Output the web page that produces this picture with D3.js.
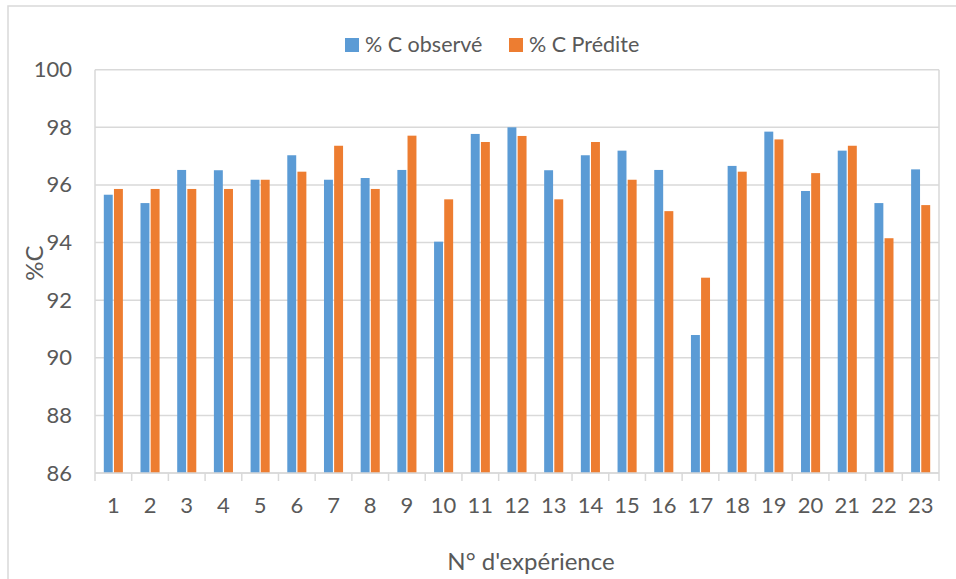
<!DOCTYPE html>
<html>
<head>
<meta charset="utf-8">
<script src="https://cdn.jsdelivr.net/npm/d3@7"></script>
<style>
  html, body { margin: 0; padding: 0; background: #fff; }
  svg { display: block; font-family: Lato, "Open Sans", sans-serif; }
</style>
</head>
<body>
<svg id="chart" width="956" height="579"></svg>
<script>
// Experiment numbers and carbon percentages
const experiments = d3.range(1, 24).map(String);
const observed = [95.66, 95.37, 96.52, 96.51, 96.18, 97.03, 96.18, 96.24, 96.52, 94.03,
                  97.77, 98.00, 96.51, 97.03, 97.19, 96.52, 90.79, 96.66, 97.85, 95.79,
                  97.19, 95.37, 96.54];
const predicted = [95.86, 95.86, 95.86, 95.86, 96.18, 96.46, 97.36, 95.86, 97.71, 95.50,
                   97.49, 97.70, 95.50, 97.49, 96.18, 95.09, 92.78, 96.46, 97.58, 96.41,
                   97.36, 94.15, 95.30];
const seriesNames = ["% C observé", "% C Prédite"];
const yTicks = [86, 88, 90, 92, 94, 96, 98, 100];

const colors = ["#5b9bd5", "#ed7d31"];
const textColor = "#595959";
const gridColor = "#d9d9d9";
const font = "Lato, 'Open Sans', sans-serif";

const svg = d3.select("#chart");
const plot = { left: 95, right: 939, top: 69.7, bottom: 473 };

// Chart frame
svg.append("path")
  .attr("d", "M8,960 L8,6 L960,6")
  .attr("fill", "none")
  .attr("stroke", gridColor)
  .attr("stroke-width", 1.5);

const x0 = d3.scaleBand()
  .domain(experiments)
  .range([plot.left, plot.right])
  .paddingInner(0.48)
  .paddingOuter(0.24);

const x1 = d3.scaleBand()
  .domain([0, 1])
  .range([0, x0.bandwidth()])
  .paddingInner(0.12);

const y = d3.scaleLinear()
  .domain([86, 100])
  .range([plot.bottom, plot.top]);

// Horizontal gridlines
svg.append("g")
  .selectAll("line")
  .data(yTicks)
  .join("line")
  .attr("x1", plot.left)
  .attr("x2", plot.right)
  .attr("y1", d => y(d))
  .attr("y2", d => y(d))
  .attr("stroke", gridColor)
  .attr("stroke-width", 1.5);

// Plot area side borders
svg.append("g")
  .selectAll("line")
  .data([plot.left, plot.right])
  .join("line")
  .attr("x1", d => d).attr("x2", d => d)
  .attr("y1", plot.top).attr("y2", plot.bottom)
  .attr("stroke", gridColor)
  .attr("stroke-width", 1.5);

// Bars
const rows = experiments.map((e, i) => ({ e, values: [observed[i], predicted[i]] }));
const groups = svg.append("g")
  .selectAll("g")
  .data(rows)
  .join("g")
  .attr("transform", d => `translate(${x0(d.e)},0)`);

groups.selectAll("rect")
  .data(d => d.values.map((v, k) => ({ v, k })))
  .join("rect")
  .attr("x", d => x1(d.k))
  .attr("width", x1.bandwidth())
  .attr("y", d => y(d.v))
  .attr("height", d => y(86) - y(d.v))
  .attr("fill", d => colors[d.k]);

// Y axis labels
const yAxis = svg.append("g")
  .attr("transform", `translate(${plot.left},0)`)
  .call(d3.axisLeft(y).tickValues(yTicks).tickSize(0).tickPadding(23).tickFormat(d3.format("d")));
yAxis.select(".domain").remove();
yAxis.selectAll("text")
  .attr("fill", textColor)
  .style("font-size", "22px")
  .style("font-family", font);

// X axis: category labels with tick marks at band boundaries
const xAxis = svg.append("g")
  .attr("transform", `translate(0,${plot.bottom})`)
  .call(d3.axisBottom(x0).tickSize(0).tickPadding(24));
xAxis.select(".domain")
  .attr("stroke", gridColor)
  .attr("stroke-width", 1.5)
  .attr("d", `M${plot.left},0H${plot.right}`);
xAxis.selectAll("text")
  .attr("fill", textColor)
  .style("font-size", "22px")
  .style("font-family", font);

const step = x0.step();
xAxis.append("g")
  .selectAll("line")
  .data(d3.range(experiments.length + 1))
  .join("line")
  .attr("x1", i => plot.left + i * step)
  .attr("x2", i => plot.left + i * step)
  .attr("y1", 0)
  .attr("y2", 8)
  .attr("stroke", gridColor)
  .attr("stroke-width", 1.5);

// Axis titles
svg.append("text")
  .attr("transform", "translate(43,263) rotate(-90)")
  .attr("text-anchor", "middle")
  .attr("fill", textColor)
  .style("font-size", "24px")
  .text("%C");

svg.append("text")
  .attr("x", 531)
  .attr("y", 570)
  .attr("text-anchor", "middle")
  .attr("fill", textColor)
  .style("font-size", "24px")
  .text("N° d'expérience");

// Legend
const legendItems = [{ x: 345, tx: 365 }, { x: 509, tx: 529 }];
const legend = svg.append("g");
legend.selectAll("rect")
  .data(seriesNames)
  .join("rect")
  .attr("x", (d, i) => legendItems[i].x)
  .attr("y", 38)
  .attr("width", 14)
  .attr("height", 14)
  .attr("fill", (d, i) => colors[i]);
legend.selectAll("text")
  .data(seriesNames)
  .join("text")
  .attr("x", (d, i) => legendItems[i].tx)
  .attr("y", 52)
  .attr("fill", textColor)
  .style("font-size", "21.5px")
  .text(d => d);
</script>
</body>
</html>
